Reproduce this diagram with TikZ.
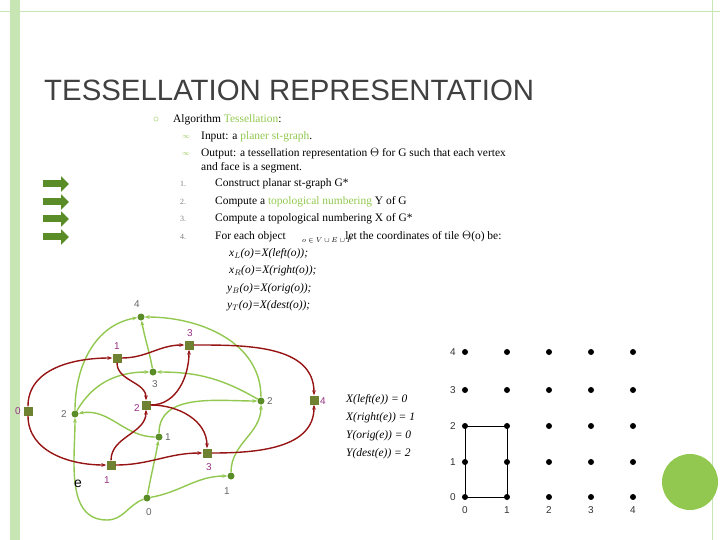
\documentclass[tikz,border=0pt]{standalone}
\usepackage{fontspec}
\setmainfont{Liberation Serif}
\setsansfont{Liberation Sans}
\usepackage{amssymb}
\usetikzlibrary{arrows.meta}
\definecolor{lgreen}{RGB}{146,200,80}
\definecolor{dgreen}{RGB}{90,140,40}
\definecolor{sqcol}{RGB}{110,130,50}
\definecolor{dred}{RGB}{150,20,20}
\definecolor{lblcol}{RGB}{150,50,130}
\definecolor{barcol}{RGB}{200,230,180}
\begin{document}
\begin{tikzpicture}[x=1bp,y=-1bp,
    gnode/.style={circle, fill=dgreen, inner sep=0pt, minimum size=7bp},
    rnode/.style={rectangle, fill=sqcol, inner sep=0pt, minimum size=9bp},
    gedge/.style={-{Stealth[length=5bp]}, lgreen, line width=1.4bp},
    redge/.style={-{Stealth[length=5bp]}, dred, line width=1.4bp},
    glab/.style={text=gray!80!black, font=\sffamily\fontsize{10}{10}\selectfont},
    rlab/.style={text=lblcol, font=\sffamily\fontsize{10}{10}\selectfont},
    txt/.style={anchor=west, inner sep=0pt, font=\fontsize{11.5}{12}\selectfont},
    dot/.style={circle, fill=black, inner sep=0pt, minimum size=6bp}
]
\useasboundingbox (0,0) rectangle (720,540);

% slide frame
\fill[barcol] (10,0) rectangle (20,540);
\draw[barcol, line width=1bp] (0,12) -- (720,12);
\draw[barcol, line width=1bp] (712,0) -- (712,540);
\fill[lgreen] (690,482) circle (28);

% title
\node[anchor=west, inner sep=0pt, font=\sffamily\fontsize{29.5}{30}\selectfont, text=black!75] (title) at (44,90) {TESSELLATION REPRESENTATION};

% algorithm text
\node[txt, text=lgreen] (b0) at (153,120) {$\circ$};
\node[txt] (alg) at (173,120) {Algorithm \textcolor{lgreen}{Tessellation}:};
\node[txt, text=lgreen] (b1) at (182,137) {\scriptsize$\infty$};
\node[txt] (inp) at (201,137) {Input: a \textcolor{lgreen}{planer st-graph}.};
\node[txt, text=lgreen] (b2) at (182,154) {\scriptsize$\infty$};
\node[txt] (outp) at (201,154) {Output: a tessellation representation $\Theta$ for G such that each vertex};
\node[txt] (outq) at (201,168) {and face is a segment.};
\foreach \i/\y/\t in {1/184/{Construct planar st-graph G*},
    2/202/{Compute a \textcolor{lgreen}{topological numbering} Y of G},
    3/219/{Compute a topological numbering X of G*},
    4/237/{For each object\hspace{5.2em}let the coordinates of tile $\Theta$(o) be:}} {
  \node[txt, text=gray] (n\i) at (180,\y) {\footnotesize\i.};
  \node[txt] (s\i) at (215,\y) {\t};
  \draw[dgreen, line width=7bp, -{Triangle[length=8bp,width=15bp]}] (43,\y) -- (69,\y);
}
\node[txt, font=\fontsize{7}{7}\selectfont\itshape] (obj) at (302,240) {$o\in V\cup E\cup F$};
\node[txt, font=\fontsize{11.5}{12}\selectfont\itshape] (xl) at (229,254) {x$_L$(o)=X(left(o));};
\node[txt, font=\fontsize{11.5}{12}\selectfont\itshape] (xr) at (229,271) {x$_R$(o)=X(right(o));};
\node[txt, font=\fontsize{11.5}{12}\selectfont\itshape] (yb) at (227,289) {y$_B$(o)=X(orig(o));};
\node[txt, font=\fontsize{11.5}{12}\selectfont\itshape] (yt) at (227,306) {y$_T$(o)=X(dest(o));};

% graph G (green) and G* (red)
\node[gnode] (g4) at (141,317) {};
\node[gnode] (g3) at (153,372) {};
\node[gnode] (g2l) at (75,414) {};
\node[gnode] (g2r) at (261,401) {};
\node[gnode] (g1) at (159,437) {};
\node[gnode] (g1b) at (231,476) {};
\node[gnode] (g0) at (147,498) {};
\node[rnode] (r0) at (28,411) {};
\node[rnode] (r1) at (117,358) {};
\node[rnode] (r3) at (189,345) {};
\node[rnode] (r2) at (146,405) {};
\node[rnode] (r4) at (314,400) {};
\node[rnode] (r1b) at (111,465) {};
\node[rnode] (r3b) at (207,453) {};

\draw[gedge] (g0) to[out=80, in=-100] (g1);
\draw[gedge] (g1) to[out=90, in=180] (g2r);
\draw[gedge] (g0) to[out=10, in=180] (g1b);
\draw[gedge] (g1b) to[out=90, in=-90] (g2r);
\draw[gedge] (g2r) to[out=90, in=0] (g4);
\draw[gedge] (g3) to[out=100, in=-80] (g4);
\draw[gedge] (g2r) to[out=150, in=0] (g3);
\draw[gedge] (g2l) to[out=60, in=180] (g3);
\draw[gedge] (g1) to[out=180, in=10] (g2l);
\draw[gedge] (g2l) to[out=90, in=190] (g4);
\draw[gedge] (g0) to[out=200, in=0] (107,520) to[out=180, in=-90] (g2l);

\draw[redge] (r0) to[out=90, in=180] (r1);
\draw[redge] (r1) to[out=0, in=180] (r3);
\draw[redge] (r3) to[out=0, in=90] (r4);
\draw[redge] (r0) to[out=-90, in=180] (r1b);
\draw[redge] (r1b) to[out=0, in=180] (r3b);
\draw[redge] (r3b) to[out=0, in=-90] (r4);
\draw[redge] (r1) to[out=-90, in=90] (r2);
\draw[redge] (r2) to[out=0, in=-90] (r3);
\draw[redge] (r1b) to[out=90, in=-90] (r2);
\draw[redge] (r2) to[out=0, in=90] (r3b);

% vertex labels
\node[glab] (lg4) at (137,304) {4};
\node[glab] (lg3) at (155,384) {3};
\node[glab] (lg2l) at (64,414) {2};
\node[glab] (lg2r) at (270,401) {2};
\node[glab] (lg1) at (168,437) {1};
\node[glab] (lg1b) at (227,491) {1};
\node[glab] (lg0) at (149,512) {0};
\node[rlab] (lr0) at (18,411) {0};
\node[rlab] (lr1) at (117,346) {1};
\node[rlab] (lr3) at (190,333) {3};
\node[rlab] (lr2) at (137,408) {2};
\node[rlab] (lr4) at (323,401) {4};
\node[rlab] (lr1b) at (107,480) {1};
\node[rlab] (lr3b) at (209,467) {3};
\node[font=\sffamily\fontsize{14}{14}\selectfont] (le) at (78,484) {e};

% coordinates of e
\node[txt, font=\fontsize{11.5}{12}\selectfont\itshape] (cx1) at (346,400) {X(left(e)) = 0};
\node[txt, font=\fontsize{11.5}{12}\selectfont\itshape] (cx2) at (346,418) {X(right(e)) = 1};
\node[txt, font=\fontsize{11.5}{12}\selectfont\itshape] (cy1) at (346,436) {Y(orig(e)) = 0};
\node[txt, font=\fontsize{11.5}{12}\selectfont\itshape] (cy2) at (346,454) {Y(dest(e)) = 2};

% grid
\foreach \j/\y in {0/497,1/462,2/426,3/390,4/352} {
  \node[glab, text=black!80] (ry\j) at (453,\y) {\j};
  \foreach \i/\x in {0/465,1/507,2/549,3/591,4/633}
    \node[dot] (d\i\j) at (\x,\y) {};
}
\foreach \i/\x in {0/465,1/507,2/549,3/591,4/633}
  \node[glab, text=black!80] (cx\i) at (\x,510) {\i};
\draw[black, line width=0.8bp] (d02.center) rectangle (d10.center);
\end{tikzpicture}
\end{document}
